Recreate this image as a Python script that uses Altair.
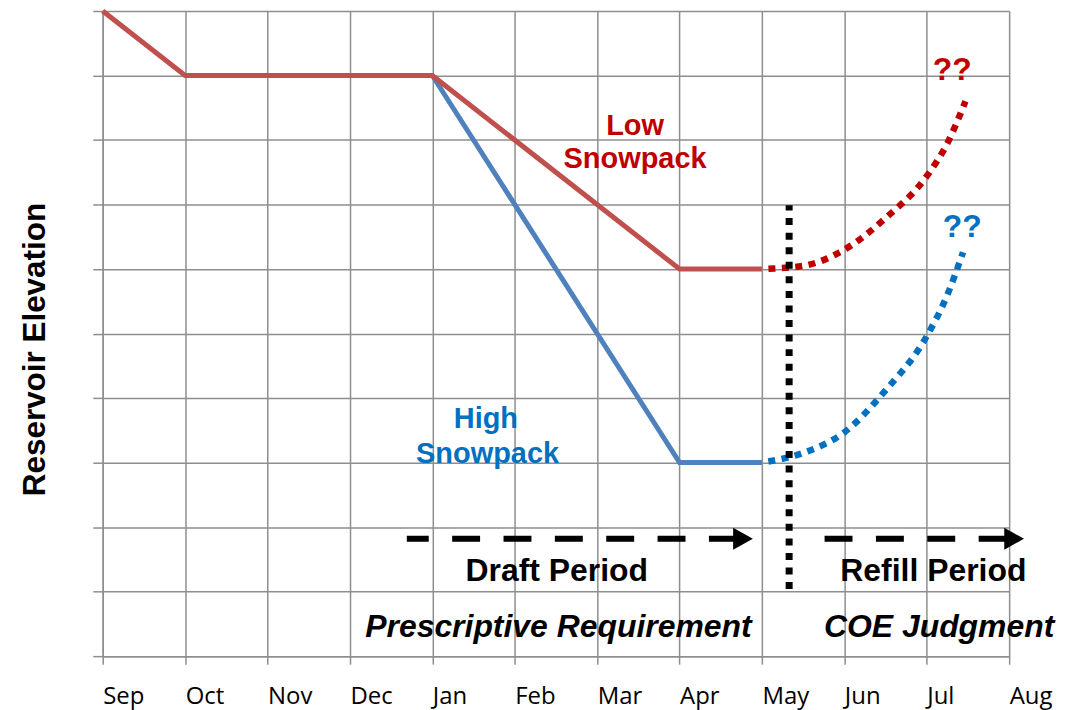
import altair as alt
import pandas as pd

# ---------------- data ----------------
month_labels = ["Sep", "Oct", "Nov", "Dec", "Jan", "Feb", "Mar", "Apr", "May", "Jun", "Jul", "Aug"]
month_pos = list(range(12))
elev_ticks = list(range(11))

low_x = [0, 1, 4, 7, 8]
low_y = [10, 9, 9, 6, 6]
high_x = [4, 7, 8]
high_y = [9, 3, 3]

low_refill_x = [8, 8.5, 9, 9.5, 10, 10.25, 10.47]
low_refill_y = [6, 6.05, 6.3, 6.79, 7.44, 7.95, 8.6]
high_refill_x = [8, 8.5, 9, 9.5, 10, 10.25, 10.44]
high_refill_y = [3, 3.15, 3.47, 4.12, 4.96, 5.6, 6.26]

divider_x = [8.33, 8.33]
divider_y = [1.04, 6.99]

draft_arrow_x = [3.69, 7.78]
draft_tip_x = [7.89]
refill_arrow_x = [8.76, 10.97]
refill_tip_x = [11.18]
arrow_y = 1.82

red_text = ["Low", "Snowpack"]
red_text_x = [6.46, 6.46]
red_text_y = [8.08, 7.56]
blue_text = ["High", "Snowpack"]
blue_text_x = [4.65, 4.67]
blue_text_y = [3.54, 3.0]
question_text = ["??", "??"]
question_x = [10.31, 10.43]
question_y = [8.93, 6.49]
question_colors = ["#c00000", "#0070c0"]
bold_text = ["Draft Period", "Refill Period"]
bold_text_x = [5.51, 10.08]
bold_text_y = [1.16, 1.16]
italic_text = ["Prescriptive Requirement", "COE Judgment"]
italic_text_x = [5.53, 10.15]
italic_text_y = [0.29, 0.29]

# ---------------- helpers ----------------
GRID = "#8e8e8e"
label_expr = "[" + ",".join("'%s'" % m for m in month_labels) + "][datum.value]"

x_scale = alt.Scale(domain=[0, 11], nice=False, zero=False)
y_scale = alt.Scale(domain=[0, 10], nice=False, zero=False)

x_axis = alt.Axis(values=month_pos, labelExpr=label_expr, title=None, grid=True,
                  labelAlign="left", labelBaseline="alphabetic", labelPadding=39,
                  labelFlush=False, labelOverlap=False, labelFont="Open Sans",
                  labelFontSize=24, labelColor="#000000", tickSize=8)
y_axis = alt.Axis(values=elev_ticks, labels=False, grid=True, tickSize=10,
                  title="Reservoir Elevation", titleFont="Liberation Sans",
                  titleFontSize=31.5, titleFontWeight="bold", titleColor="#000000",
                  titleAngle=270, titleX=-58, titleY=339, titleAlign="center",
                  titleBaseline="alphabetic")


def enc(chart):
    return chart.encode(
        x=alt.X("m:Q", scale=x_scale, axis=x_axis),
        y=alt.Y("v:Q", scale=y_scale, axis=y_axis),
    )


def df(xs, ys):
    return pd.DataFrame({"m": xs, "v": ys})


high_line = enc(alt.Chart(df(high_x, high_y)).mark_line(color="#4f81bd", strokeWidth=5))
low_line = enc(alt.Chart(df(low_x, low_y)).mark_line(color="#c0504d", strokeWidth=5))

low_refill = enc(alt.Chart(df(low_refill_x, low_refill_y)).mark_line(
    color="#c00000", strokeWidth=6.5, strokeDash=[7, 6.5], strokeDashOffset=7,
    strokeCap="butt", interpolate="monotone"))
high_refill = enc(alt.Chart(df(high_refill_x, high_refill_y)).mark_line(
    color="#0070c0", strokeWidth=6.5, strokeDash=[7, 6.5], strokeDashOffset=7,
    strokeCap="butt", interpolate="monotone"))

divider = enc(alt.Chart(df(divider_x, divider_y)).mark_line(
    color="#000000", strokeWidth=7, strokeDash=[7, 7.6], strokeCap="butt"))

draft_arrow = enc(alt.Chart(df(draft_arrow_x, [arrow_y] * 2)).mark_line(
    color="#000000", strokeWidth=6, strokeDash=[28, 23.5], strokeDashOffset=6,
    strokeCap="butt"))
refill_arrow = enc(alt.Chart(df(refill_arrow_x, [arrow_y] * 2)).mark_line(
    color="#000000", strokeWidth=6, strokeDash=[28, 23.5], strokeCap="butt"))
tips = enc(alt.Chart(df(draft_tip_x + refill_tip_x, [arrow_y] * 2)).mark_point(
    shape="M-1.8,-1L0,0L-1.8,1Z", size=484, filled=True, fill="#000000",
    strokeWidth=0, opacity=1))


def text_layer(texts, xs, ys, color, size, style="normal"):
    d = pd.DataFrame({"m": xs, "v": ys, "t": texts})
    return enc(alt.Chart(d).mark_text(
        font="Liberation Sans", fontSize=size, fontWeight="bold", fontStyle=style,
        color=color, align="center", baseline="alphabetic")).encode(text="t:N")


red_labels = text_layer(red_text, red_text_x, red_text_y, "#c00000", 29)
blue_labels = text_layer(blue_text, blue_text_x, blue_text_y, "#0070c0", 29)
q_red = text_layer(question_text[:1], question_x[:1], question_y[:1], question_colors[0], 32)
q_blue = text_layer(question_text[1:], question_x[1:], question_y[1:], question_colors[1], 32)
bold_labels = text_layer(bold_text, bold_text_x, bold_text_y, "#000000", 32)
italic_labels = text_layer(italic_text, italic_text_x, italic_text_y, "#000000", 32, "italic")

chart = alt.layer(
    high_line, low_line, low_refill, high_refill, divider,
    draft_arrow, refill_arrow, tips,
    red_labels, blue_labels, q_red, q_blue, bold_labels, italic_labels,
).properties(
    width=909, height=647,
    padding={"left": 95, "top": 2, "right": 55, "bottom": 53},
    autosize=alt.AutoSizeParams(type="none"),
    background="#ffffff",
).configure_axis(
    gridColor=GRID, gridWidth=1.5, gridOpacity=1,
    domainColor=GRID, domainWidth=1.5,
    tickColor=GRID, tickWidth=1.5,
).configure_view(strokeWidth=0)

chart.save("out.html", embed_options={"renderer": "svg", "actions": False})
